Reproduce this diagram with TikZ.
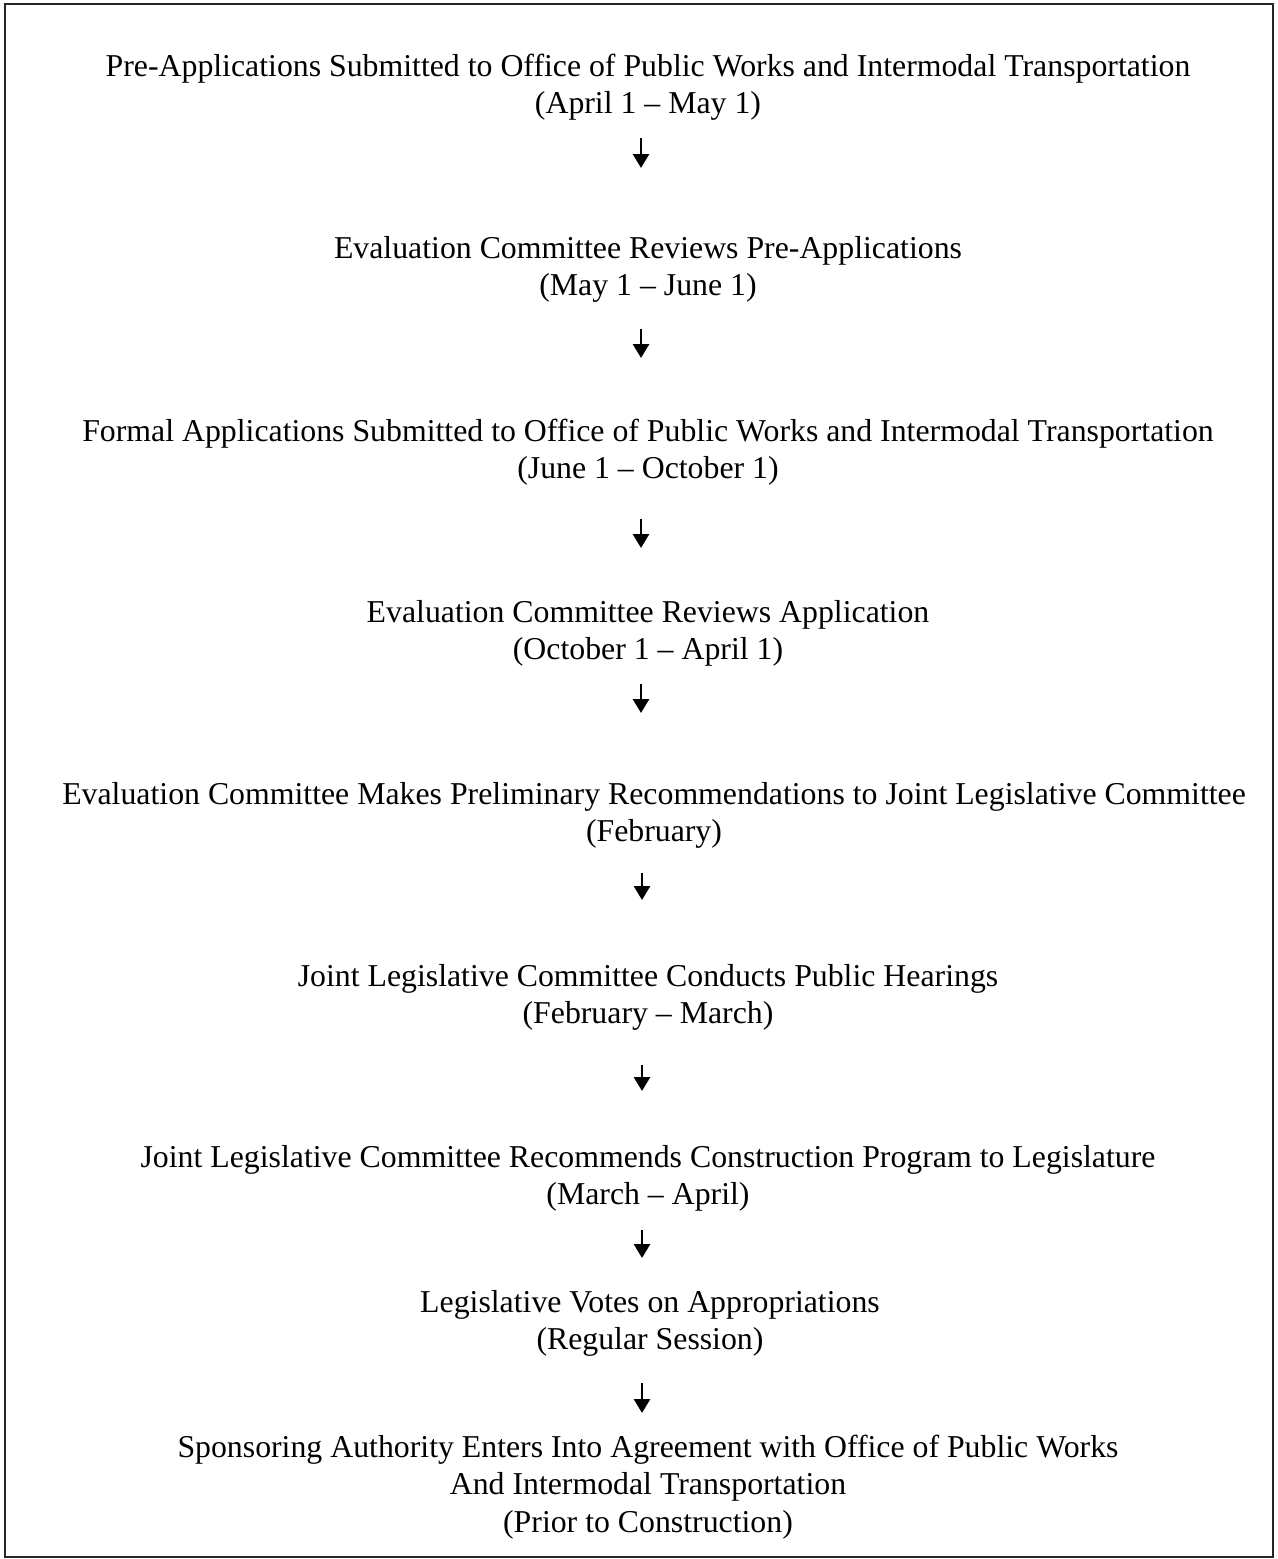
\documentclass[tikz,border=0pt]{standalone}
\usepackage{fontspec}
\setmainfont{Liberation Serif}
\usetikzlibrary{arrows.meta}
\begin{document}
\begin{tikzpicture}[x=0.5pt,y=-0.5pt,
  stepbox/.style={align=center,inner sep=0pt,font=\fontsize{15.9}{18.6}\selectfont},
  arr/.style={line width=1.4pt,-{Triangle[length=7pt,width=8pt]}}]
\useasboundingbox (0,0) rectangle (1278,1559);
\draw[line width=1.1pt,black!85] (5,4) rectangle (1273,1557);
\node[stepbox] (s1) at (648,87) {Pre-Applications Submitted to Office of Public Works and Intermodal Transportation\\(April 1 -- May 1)};
\node[stepbox] (s2) at (648,269) {Evaluation Committee Reviews Pre-Applications\\(May 1 -- June 1)};
\node[stepbox] (s3) at (648,452) {Formal Applications Submitted to Office of Public Works and Intermodal Transportation\\(June 1 -- October 1)};
\node[stepbox] (s4) at (648,633) {Evaluation Committee Reviews Application\\(October 1 -- April 1)};
\node[stepbox] (s5) at (654,815) {Evaluation Committee Makes Preliminary Recommendations to Joint Legislative Committee\\(February)};
\node[stepbox] (s6) at (648,997) {Joint Legislative Committee Conducts Public Hearings\\(February -- March)};
\node[stepbox] (s7) at (648,1178) {Joint Legislative Committee Recommends Construction Program to Legislature\\(March -- April)};
\node[stepbox] (s8) at (650,1323) {Legislative Votes on Appropriations\\(Regular Session)};
\node[stepbox] (s9) at (648,1487) {Sponsoring Authority Enters Into Agreement with Office of Public Works\\And Intermodal Transportation\\(Prior to Construction)};
\coordinate (a1s) at (641,138); \coordinate (a1e) at (641,168);
\coordinate (a2s) at (641,329); \coordinate (a2e) at (641,358);
\coordinate (a3s) at (641,519); \coordinate (a3e) at (641,548);
\coordinate (a4s) at (641,684); \coordinate (a4e) at (641,713);
\coordinate (a5s) at (642,873); \coordinate (a5e) at (642,900);
\coordinate (a6s) at (642,1065); \coordinate (a6e) at (642,1091);
\coordinate (a7s) at (642,1230); \coordinate (a7e) at (642,1258);
\coordinate (a8s) at (642,1383); \coordinate (a8e) at (642,1413);
\foreach \i in {1,...,8} \draw[arr] (a\i s) -- (a\i e);
\end{tikzpicture}
\end{document}
